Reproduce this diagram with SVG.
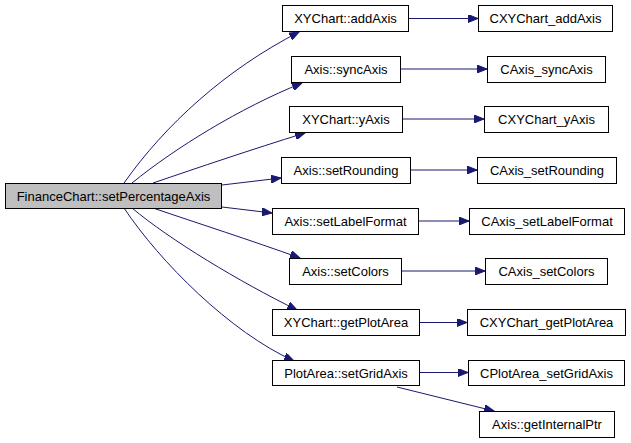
<svg xmlns="http://www.w3.org/2000/svg" width="631" height="443" viewBox="0 0 631 443">
<style>
.n rect{fill:#fff;stroke:#000;stroke-width:1}
#root rect{fill:#bfbfbf}
text{font-family:"Liberation Sans",Arial,sans-serif;font-size:13px;fill:#000;text-anchor:middle}
.e path{fill:none;stroke:#191970;stroke-width:1}
</style>
<defs>
<marker id="ah" markerWidth="11" markerHeight="8" refX="10" refY="4" orient="auto" markerUnits="userSpaceOnUse">
<path d="M0,0 L10,4 L0,8 Z" fill="#191970" stroke="#191970" stroke-width="1"/>
</marker>
</defs>
<g id="edges" class="e">
<path d="M124,183 C165,125 225,70 299,32" marker-end="url(#ah)"/>
<path d="M132,183 C175,148 240,108 302,83" marker-end="url(#ah)"/>
<path d="M153,183 C200,167 250,150 305,133" marker-end="url(#ah)"/>
<path d="M222,185 L281,178" marker-end="url(#ah)"/>
<path d="M222,207 L272,213" marker-end="url(#ah)"/>
<path d="M153,208 C200,224 250,240 300,258" marker-end="url(#ah)"/>
<path d="M132,208 C170,240 240,282 297,310" marker-end="url(#ah)"/>
<path d="M124,208 C160,262 230,332 294,361" marker-end="url(#ah)"/>
<path d="M409,18.5 L478,18.5" marker-end="url(#ah)"/>
<path d="M401,69 L487,69" marker-end="url(#ah)"/>
<path d="M403,119 L484,119" marker-end="url(#ah)"/>
<path d="M411,170 L477,170" marker-end="url(#ah)"/>
<path d="M419,221 L469,221" marker-end="url(#ah)"/>
<path d="M402,271 L485,271" marker-end="url(#ah)"/>
<path d="M420,322.5 L467,322.5" marker-end="url(#ah)"/>
<path d="M420,372.5 L468,372.5" marker-end="url(#ah)"/>
<path d="M397,387 L494,411" marker-end="url(#ah)"/>
</g>
<g id="root" class="n"><rect x="5.5" y="183.5" width="216" height="25"/><text x="113.5" y="200.5">FinanceChart::setPercentageAxis</text></g>
<g id="n_addAxis" class="n"><rect x="282.5" y="5.5" width="126" height="26"/><text x="345.5" y="23">XYChart::addAxis</text></g>
<g id="n_syncAxis" class="n"><rect x="291.5" y="56.5" width="109" height="26"/><text x="346" y="74">Axis::syncAxis</text></g>
<g id="n_yAxis" class="n"><rect x="289.5" y="106.5" width="113" height="26"/><text x="346" y="124">XYChart::yAxis</text></g>
<g id="n_setRounding" class="n"><rect x="281.5" y="157.5" width="129" height="26"/><text x="346" y="175">Axis::setRounding</text></g>
<g id="n_setLabelFormat" class="n"><rect x="272.5" y="208.5" width="146" height="26"/><text x="345.5" y="226">Axis::setLabelFormat</text></g>
<g id="n_setColors" class="n"><rect x="289.5" y="258.5" width="112" height="26"/><text x="345.5" y="276">Axis::setColors</text></g>
<g id="n_getPlotArea" class="n"><rect x="272.5" y="309.5" width="147" height="26"/><text x="346" y="327">XYChart::getPlotArea</text></g>
<g id="n_setGridAxis" class="n"><rect x="272.5" y="360.5" width="147" height="25"/><text x="346" y="377.5">PlotArea::setGridAxis</text></g>
<g id="n_CXYChart_addAxis" class="n"><rect x="478.5" y="5.5" width="134" height="26"/><text x="545.5" y="23">CXYChart_addAxis</text></g>
<g id="n_CAxis_syncAxis" class="n"><rect x="487.5" y="56.5" width="118" height="26"/><text x="546.5" y="74">CAxis_syncAxis</text></g>
<g id="n_CXYChart_yAxis" class="n"><rect x="484.5" y="106.5" width="124" height="26"/><text x="546.5" y="124">CXYChart_yAxis</text></g>
<g id="n_CAxis_setRounding" class="n"><rect x="477.5" y="157.5" width="139" height="26"/><text x="547" y="175">CAxis_setRounding</text></g>
<g id="n_CAxis_setLabelFormat" class="n"><rect x="469.5" y="208.5" width="155" height="26"/><text x="547" y="226">CAxis_setLabelFormat</text></g>
<g id="n_CAxis_setColors" class="n"><rect x="485.5" y="258.5" width="122" height="26"/><text x="546.5" y="276">CAxis_setColors</text></g>
<g id="n_CXYChart_getPlotArea" class="n"><rect x="467.5" y="309.5" width="158" height="26"/><text x="546.5" y="327">CXYChart_getPlotArea</text></g>
<g id="n_CPlotArea_setGridAxis" class="n"><rect x="468.5" y="360.5" width="156" height="25"/><text x="546.5" y="377.5">CPlotArea_setGridAxis</text></g>
<g id="n_getInternalPtr" class="n"><rect x="479.5" y="411.5" width="135" height="26"/><text x="547" y="429">Axis::getInternalPtr</text></g>
</svg>
